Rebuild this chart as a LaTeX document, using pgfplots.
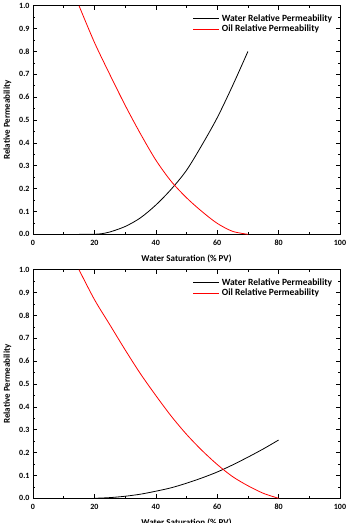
\documentclass[border=0pt]{standalone}
\usepackage{pgfplots}
\pgfplotsset{compat=1.18}
\usepackage{fontspec}
\setmainfont{Carlito}
\pgfplotsset{
  relperm/.style={
    scale only axis, width=307bp, height=228.5bp,
    xmin=0, xmax=100, ymin=0, ymax=1,
    xtick={0,20,40,60,80,100}, minor xtick={10,30,50,70,90},
    xticklabels={0,20,40,60,80,100},
    ytick={0,0.1,0.2,0.3,0.4,0.5,0.6,0.7,0.8,0.9,1.0},
    yticklabels={0.0,0.1,0.2,0.3,0.4,0.5,0.6,0.7,0.8,0.9,1.0},
    minor ytick={0.05,0.15,0.25,0.35,0.45,0.55,0.65,0.75,0.85,0.95},
    tick align=inside, tick pos=both,
    major tick length=4bp, minor tick length=2.2bp,
    every tick/.style={black, line width=0.6pt},
    axis line style={line width=0.7pt},
    xticklabel style={yshift=-2bp},
    tick label style={font=\fontsize{8bp}{9bp}\selectfont\bfseries},
    label style={font=\fontsize{9bp}{10bp}\selectfont\bfseries},
    xlabel={Water Saturation (\% PV)},
    ylabel={Relative Permeability},
    xlabel style={yshift=-2.5bp},
    ylabel style={yshift=1bp},
    legend style={draw=none, fill=none, at={(0.985,0.975)}, anchor=north east,
      font=\fontsize{9.5bp}{11bp}\selectfont\bfseries, row sep=-1.8bp,
      inner sep=1bp},
    legend cell align=left,
    legend image code/.code={\draw[##1] (0bp,0bp) -- (26bp,0bp);},
  }
}
\begin{document}
\begin{tikzpicture}[x=1bp,y=1bp]
\begin{axis}[relperm, at={(0,264bp)}, anchor=south west]
\addplot[black, line width=0.8pt, smooth] coordinates {
(15,0) (20,0) (22,0.002) (25,0.01) (30,0.034) (35,0.072) (40,0.128) (45,0.197) (50,0.28) (55,0.39) (60,0.51) (65,0.65) (70,0.80)};
\addlegendentry{Water Relative Permeability}
\addplot[red, line width=0.8pt, smooth] coordinates {
(15,1.0) (20,0.84) (25,0.70) (30,0.565) (35,0.44) (40,0.325) (45,0.232) (50,0.16) (55,0.10) (60,0.048) (65,0.013) (70,0)};
\addlegendentry{Oil Relative Permeability}
\end{axis}
\begin{axis}[relperm, at={(0,0)}, anchor=south west]
\addplot[black, line width=0.8pt, smooth] coordinates {
(20,0) (25,0.003) (30,0.009) (35,0.018) (40,0.031) (45,0.046) (50,0.066) (55,0.089) (60,0.115) (65,0.146) (70,0.18) (75,0.216) (80,0.255)};
\addlegendentry{Water Relative Permeability}
\addplot[red, line width=0.8pt, smooth] coordinates {
(15,1.0) (20,0.87) (25,0.76) (30,0.65) (35,0.545) (40,0.45) (45,0.36) (50,0.28) (55,0.21) (60,0.148) (65,0.095) (70,0.055) (75,0.022) (80,0)};
\addlegendentry{Oil Relative Permeability}
\end{axis}
\pgfresetboundingbox
\useasboundingbox (-33bp,-24.7bp) rectangle (316bp,498.3bp);
\end{tikzpicture}
\end{document}
